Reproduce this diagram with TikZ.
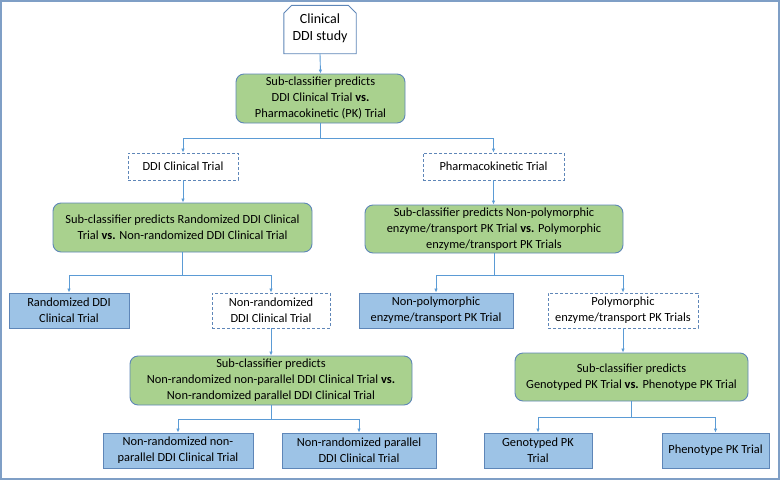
\documentclass[tikz,border=0pt]{standalone}
\usepackage{fontspec}
\setmainfont{Carlito}
\usetikzlibrary{arrows.meta}
\definecolor{frame}{HTML}{7F9FC6}
\definecolor{greenfill}{HTML}{A9D18E}
\definecolor{bluefill}{HTML}{9DC3E6}
\definecolor{edge}{HTML}{5E86B8}
\definecolor{conn}{HTML}{5B9BD5}
\tikzset{
  base/.style={align=center, inner sep=0pt, font=\fontsize{12.4}{16}\selectfont, text=black},
  greenbox/.style={base, draw=edge, fill=greenfill, rounded corners=8pt, line width=0.9pt},
  bluebox/.style={base, draw=edge, fill=bluefill, line width=0.9pt},
  dashbox/.style={base, draw=edge, dashed, dash pattern=on 3pt off 2pt, line width=0.9pt, fill=white},
  conn/.style={draw=conn, line width=0.9pt, -{Latex[length=4pt,width=3.5pt]}},
  plain/.style={draw=conn, line width=0.9pt},
}
\begin{document}
\begin{tikzpicture}[x=1pt,y=-1pt]
\useasboundingbox (0,0) rectangle (780,480);
\draw[frame, line width=2pt] (1,1) rectangle (779,479);

% top node with snipped corners
\node[base, minimum width=72pt, minimum height=48pt] (top) at (320,29.5) {};
\draw[edge, line width=0.9pt, fill=white]
  (top.south west) -- ([yshift=-8pt]top.north west) -- ([xshift=8pt]top.north west)
  -- ([xshift=-8pt]top.north east) -- ([yshift=-8pt]top.north east) -- (top.south east) -- cycle;
\node[base, font=\fontsize{14}{17}\selectfont] (toptext) at ([yshift=1pt]top.center) {Clinical\\DDI study};

\node[greenbox, minimum width=169pt, minimum height=49pt] (g1) at (320.5,98.5)
  {Sub-classifier predicts\\DDI Clinical Trial \textbf{vs.}\\Pharmacokinetic (PK) Trial};

\node[dashbox, minimum width=110pt, minimum height=27pt] (d1) at (183,166.5) {DDI Clinical Trial};
\node[dashbox, minimum width=141pt, minimum height=27pt] (d2) at (493.5,166.5) {Pharmacokinetic Trial};

\node[greenbox, minimum width=259pt, minimum height=49pt] (g2) at (182.5,227.5)
  {Sub-classifier predicts Randomized DDI Clinical\\Trial \textbf{vs.} Non-randomized DDI Clinical Trial};
\node[greenbox, minimum width=258pt, minimum height=48pt] (g3) at (494,229)
  {Sub-classifier predicts Non-polymorphic\\enzyme/transport PK Trial \textbf{vs.} Polymorphic\\enzyme/transport PK Trials};

\node[bluebox, minimum width=120pt, minimum height=35pt] (b1) at (69,310.5) {Randomized DDI\\Clinical Trial};
\node[dashbox, minimum width=118pt, minimum height=35pt] (d3) at (271,310.5) {Non-randomized\\DDI Clinical Trial};
\node[bluebox, minimum width=154pt, minimum height=35pt] (b2) at (436,310.5) {Non-polymorphic\\enzyme/transport PK Trial};
\node[dashbox, minimum width=150pt, minimum height=35pt] (d4) at (623,310.5) {Polymorphic\\enzyme/transport PK Trials};

\node[greenbox, minimum width=282pt, minimum height=49pt] (g4) at (271,380.5)
  {Sub-classifier predicts\\Non-randomized non-parallel DDI Clinical Trial \textbf{vs.}\\Non-randomized parallel DDI Clinical Trial};
\node[greenbox, minimum width=233pt, minimum height=48pt] (g5) at (631.5,377)
  {Sub-classifier predicts\\Genotyped PK Trial \textbf{vs.} Phenotype PK Trial};

\node[bluebox, minimum width=150pt, minimum height=35pt] (b3) at (178,450.5) {Non-randomized non-\\parallel DDI Clinical Trial};
\node[bluebox, minimum width=154pt, minimum height=35pt] (b4) at (359,450.5) {Non-randomized parallel\\DDI Clinical Trial};
\node[bluebox, minimum width=108pt, minimum height=35pt] (b5) at (538,450.5) {Genotyped PK\\Trial};
\node[bluebox, minimum width=107pt, minimum height=35pt] (b6) at (715.5,450.5) {Phenotype PK Trial};

% connectors
\draw[conn] (top.south) -- (g1.north);
\coordinate (j1) at (320.5,138);
\draw[plain] (g1.south) -- (j1);
\draw[conn] (j1) -| (d1.north);
\draw[conn] (j1) -| (d2.north);
\draw[conn] (d1.south) -- (d1.south |- g2.north);
\draw[conn] (d2.south) -- (d2.south |- g3.north);

\coordinate (j2) at (182.5,275);
\draw[plain] (g2.south) -- (j2);
\draw[conn] (j2) -| (b1.north);
\draw[conn] (j2) -| (d3.north);

\coordinate (j3) at (494,275);
\draw[plain] (g3.south) -- (j3);
\draw[conn] (j3) -| (b2.north);
\draw[conn] (j3) -| (d4.north);

\draw[conn] (d3.south) -- (d3.south |- g4.north);
\draw[conn] (d4.south) -- (d4.south |- g5.north);

\coordinate (j4) at (271,419);
\draw[plain] (g4.south) -- (j4);
\draw[conn] (j4) -| (b3.north);
\draw[conn] (j4) -| (b4.north);

\coordinate (j5) at (631.5,417);
\draw[plain] (g5.south) -- (j5);
\draw[conn] (j5) -| (b5.north);
\draw[conn] (j5) -| (b6.north);
\end{tikzpicture}
\end{document}
